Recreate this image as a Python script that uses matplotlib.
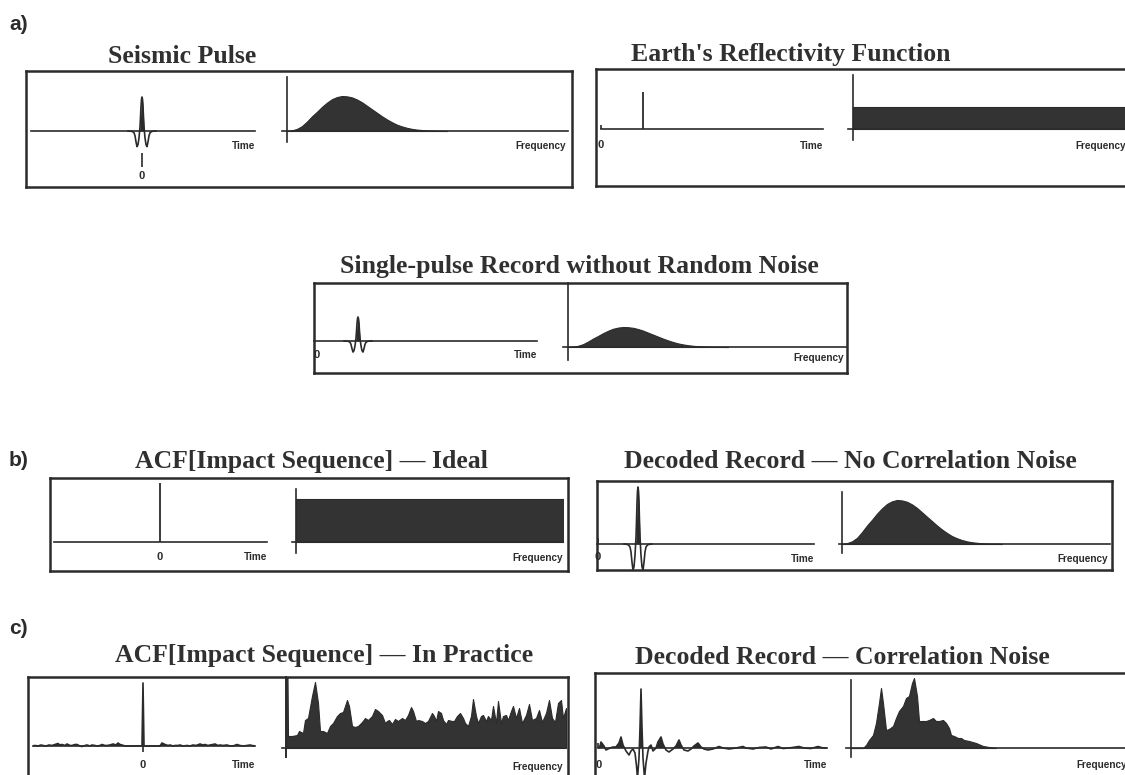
import matplotlib
matplotlib.use('Agg')
import matplotlib.pyplot as plt
from matplotlib import transforms
import numpy as np

# zero-phase seismic pulse (time in ms, amplitude normalised to the peak)
pulse_time = [-14, -10, -8, -7, -6, -5, -4, -3, -2, -1.5, -1, -0.5, 0,
              0.5, 1, 1.5, 2, 3, 4, 5, 6, 7, 8, 10, 14]
pulse_amp = [0, -0.01, -0.05, -0.14, -0.32, -0.46, -0.4, -0.2, 0.12, 0.4, 0.72, 0.93, 1.0,
             0.93, 0.72, 0.4, 0.12, -0.2, -0.4, -0.46, -0.32, -0.14, -0.05, -0.01, 0]

# amplitude spectrum of the pulse (Hz, normalised)
pulse_freq = [0, 5, 10, 15, 20, 25, 30, 35, 40, 45, 50, 55, 60, 65, 70,
              75, 80, 85, 90, 95, 100, 105, 110, 115, 120, 125, 130, 140, 150, 160]
pulse_spec = [0, 0.02, 0.06, 0.14, 0.27, 0.42, 0.55, 0.69, 0.81, 0.91, 0.97, 1.0, 0.99, 0.96, 0.9,
              0.82, 0.72, 0.62, 0.52, 0.42, 0.33, 0.25, 0.18, 0.13, 0.09, 0.06, 0.04, 0.015, 0.005, 0]

# single reflector
refl_time = [42]
refl_amp = [1.0]

# white spectrum (reflector / ideal ACF)
white_freq = [0, 300]
white_spec = [1.0, 1.0]

# ideal autocorrelation of the impact sequence
acf_ideal_time = [0]
acf_ideal_amp = [1.0]

# autocorrelation of a real impact sequence (lag in ms, relative amplitude)
acf_real_time = [-111, -108, -105, -102, -100, -97, -94, -91, -88, -85,
                 -83, -81, -78, -76, -73, -71, -68, -66, -63, -61,
                 -58, -56, -53, -51, -48, -46, -43, -41, -38, -36,
                 -33, -30, -27, -25, -23, -21, -18, -1, 0, 1,
                 17, 19, 22, 25, 27, 30, 32, 35, 37, 40,
                 44, 47, 50, 53, 57, 60, 62, 65, 67, 70,
                 72, 75, 77, 80, 84, 87, 90, 94, 97, 100,
                 104, 107, 109, 112]
acf_real_amp = [0, 0.5, 0, 1, 0.5, 0, 1, 0.5, 1.5, 2.5,
                1, 1.5, 0.5, 2, 0.5, 0.5, 1.5, 1.5, 0, -0.5,
                0.5, 1, 0, 1, 0.5, 0, 0.5, 1.5, 0.5, 0.5,
                1, 2, 1, 3, 1.5, 1, 0, 0, 63, 0,
                0, 3, 1.5, 0.5, 1, 0, 0.5, 0.5, 1, 0,
                0.5, 0, 1, 0.5, 2, 1, 1.5, 0.5, 1, 1.5,
                2, 0.5, 1, 0.5, 1, 0, 0, 1.5, 0.5, 0,
                0.5, 1, 0.5, 0]

acf_real_freq = [0, 1.5, 2, 6, 11, 13, 17, 19, 22, 26,
                 29, 32, 34, 37, 41, 44, 47, 51, 54, 57,
                 61, 63, 66, 69, 72, 76, 79, 82, 86, 89,
                 92, 96, 99, 101, 103, 106, 109, 112, 116, 119,
                 122, 125, 127, 130, 132, 136, 139, 142, 146, 148,
                 150, 152, 155, 157, 160, 162, 166, 168, 171, 174,
                 177, 179, 182, 185, 187, 190, 192, 195, 197, 200,
                 202, 205, 207, 210, 212, 215, 217, 220, 222, 225,
                 227, 230, 233, 236, 240, 243, 246, 250, 253, 256,
                 260, 263, 266, 269, 272, 275, 277, 280]
acf_real_spec = [70, 70, 12, 12, 13, 17, 15, 28, 30, 52,
                 66, 45, 17, 17, 15, 22, 25, 32, 35, 36,
                 48, 42, 22, 21, 22, 26, 30, 28, 32, 39,
                 37, 33, 25, 27, 28, 24, 29, 27, 30, 28,
                 33, 41, 37, 27, 28, 27, 25, 27, 35, 32,
                 27, 37, 35, 28, 24, 28, 27, 27, 32, 35,
                 30, 25, 22, 32, 49, 32, 25, 32, 33, 27,
                 32, 28, 42, 25, 47, 25, 32, 33, 28, 37,
                 42, 30, 40, 25, 33, 44, 28, 30, 38, 26,
                 35, 48, 30, 26, 45, 48, 30, 40]

# decoded record with correlation noise
dec_real_time = [0, 2, 3, 6, 8, 12, 15, 18, 21, 23,
                 25, 28, 31, 33, 35, 37, 38.5, 39.5, 41, 42,
                 43, 44, 45, 46.5, 48, 50, 51, 53, 55, 58,
                 60, 63, 65, 68, 71, 75, 78, 81, 83, 86,
                 90, 93, 96, 100, 103, 106, 110, 115, 121, 125,
                 131, 138, 145, 148, 155, 161, 168, 173, 180, 185,
                 191, 201, 206, 213, 220, 225, 229]
dec_real_amp = [0, 2, 6, 2, -2, 0, 1, 1, 5, 11,
                3, -3, -7, -3, -1, -5, -18, -30, -10, 20,
                59, 20, -10, -30, -15, -3, 1, 3, -3, 0,
                6, 11, 4, -2, -4, -1, 2, 8, 3, -2,
                -3, -1, 2, 5, 1, -1, -2, -1, 1.5, 0,
                -1, 0, 1.5, 0, -1, 0.5, 1, -1, 1.5, -0.5,
                0, 1.5, 0, -0.5, 1.5, 0, 0]

dec_real_freq = [0, 12, 15, 18, 22, 25, 28, 30, 32, 35,
                 38, 42, 45, 48, 52, 55, 58, 61, 63, 66,
                 68, 72, 75, 78, 82, 85, 88, 92, 95, 98,
                 100, 103, 107, 110, 113, 118, 125, 132, 138, 145]
dec_real_spec = [0, 0, 3, 8, 13, 25, 45, 60, 45, 18,
                 19, 22, 30, 37, 42, 50, 52, 65, 70, 52,
                 27, 27, 27, 28, 30, 27, 27, 28, 25, 20,
                 13, 12, 10, 10, 8, 7, 5, 2, 1, 0]

W, H = 1125, 775
INK = '#2b2b2b'
TITLE_FONT = dict(family='Liberation Serif', weight='bold', size=18.5, color='#303030')
AXIS_FONT = dict(family='Liberation Sans', weight='bold', size=7.2, color=INK)

fig = plt.figure(figsize=(W / 100, H / 100), dpi=100)
fig.patch.set_facecolor('white')


def box(x0, y0, x1, y1):
    ax = fig.add_axes([x0 / W, 1 - y1 / H, (x1 - x0) / W, (y1 - y0) / H])
    ax.set_xticks([])
    ax.set_yticks([])
    ax.patch.set_alpha(0)
    for s in ax.spines.values():
        s.set_linewidth(1.8)
        s.set_color(INK)
    return ax


def trace_axes(x0, x1, top, bottom, origin, base, ppu):
    # x in ms / Hz (one unit per pixel), y scaled so that ppu pixels = 1 unit
    ax = fig.add_axes([x0 / W, 1 - bottom / H, (x1 - x0) / W, (bottom - top) / H])
    ax.set_xlim(x0 - origin, x1 - origin)
    ax.set_ylim(-(bottom - base) / ppu, (base - top) / ppu)
    ax.set_xticks([])
    ax.set_yticks([])
    ax.patch.set_alpha(0)
    for side in ['top', 'right', 'left']:
        ax.spines[side].set_visible(False)
    ax.spines['bottom'].set_position(('data', 0))
    ax.spines['bottom'].set_linewidth(1.2)
    ax.spines['bottom'].set_color(INK)
    ax.ppu = ppu
    return ax


def freq_axes(x0, x1, top, bottom, origin, base, ppu, v_top, v_bot, lw=1.2):
    ax = trace_axes(x0, x1, top, bottom, origin, base, ppu)
    sp = ax.spines['left']
    sp.set_visible(True)
    sp.set_position(('data', 0))
    sp.set_bounds(-(v_bot - base) / ppu, (base - v_top) / ppu)
    sp.set_linewidth(lw)
    sp.set_color(INK)
    return ax


def under(ax, x, dy, s, ha='center', size=None):
    tr = transforms.offset_copy(ax.transData, fig=fig, x=0, y=-dy, units='dots')
    font = dict(AXIS_FONT)
    if size:
        font['size'] = size
    ax.text(x, 0, s, transform=tr, ha=ha, va='center', clip_on=False, **font)


def zero(ax, x, dy):
    under(ax, x, dy, '0', size=8)


def tick(ax, x, a_px, b_px):
    ax.vlines(x, a_px / ax.ppu, b_px / ax.ppu, color=INK, lw=1.2, clip_on=False)


def wiggle(ax, t, a, shift=0.0):
    t = np.asarray(t, float) + shift
    a = np.asarray(a, float)
    ax.plot(t, a, color=INK, lw=1.2, solid_joinstyle='round')
    ax.fill_between(t, a, 0, where=a > 0, interpolate=True, color=INK, lw=0)


def spectrum(ax, f, a):
    ax.fill_between(f, a, 0, facecolor='#333333', edgecolor=INK, lw=0.8)


def title(cx, y, s):
    fig.text(cx / W, 1 - y / H, s, ha='center', va='baseline', **TITLE_FONT)


def letter(x, y, s):
    fig.text(x / W, 1 - y / H, s, ha='left', va='center',
             family='Liberation Sans', weight='bold', size=15, color=INK)


# ---- a) seismic pulse ----
letter(9, 25, 'a)')
title(182, 63, 'Seismic Pulse')
box(26, 71, 572, 187)
ax = trace_axes(31, 255, 71, 187, 142, 131, 34)
wiggle(ax, pulse_time, pulse_amp)
tick(ax, 0, -22, -36)
zero(ax, 0, 45)
under(ax, ax.get_xlim()[1], 15, 'Time', ha='right')
ax = freq_axes(282, 568, 71, 187, 287, 131, 35, 77, 142)
spectrum(ax, pulse_freq, pulse_spec)
under(ax, ax.get_xlim()[1] - 2, 15, 'Frequency', ha='right')

# ---- a) earth reflectivity ----
title(791, 61, "Earth's Reflectivity Function")
box(596, 69, 1135, 186)
ax = trace_axes(601, 823, 69, 186, 601, 129, 37)
ax.vlines(refl_time, 0, refl_amp, color=INK, lw=1.3)
tick(ax, 0, 0, 4)
zero(ax, 0, 16)
under(ax, ax.get_xlim()[1], 17, 'Time', ha='right')
ax = freq_axes(848, 1130, 69, 186, 853, 129, 22, 75, 140)
spectrum(ax, white_freq, white_spec)
under(ax, ax.get_xlim()[1] - 4, 17, 'Frequency', ha='right')

# ---- a) single-pulse record ----
title(579, 273, 'Single-pulse Record without Random Noise')
box(314, 283, 847, 373)
ax = trace_axes(314, 537, 283, 373, 316, 341, 24)
wiggle(ax, pulse_time, pulse_amp, shift=refl_time[0])
zero(ax, 1, 14)
under(ax, ax.get_xlim()[1], 14, 'Time', ha='right')
ax = freq_axes(563, 846, 283, 373, 568, 347, 20, 283, 360)
spectrum(ax, pulse_freq, pulse_spec)
under(ax, ax.get_xlim()[1] - 2, 11, 'Frequency', ha='right')

# ---- b) ideal ACF ----
letter(9, 461, 'b)')
title(311, 468, 'ACF[Impact Sequence] \u2014 Ideal')
box(50, 478, 568, 571)
ax = trace_axes(54, 267, 478, 571, 160, 542, 59)
ax.vlines(acf_ideal_time, 0, acf_ideal_amp, color=INK, lw=1.3)
zero(ax, 0, 15)
under(ax, ax.get_xlim()[1], 15, 'Time', ha='right')
ax = freq_axes(292, 563, 478, 571, 296, 542, 43, 489, 553)
spectrum(ax, white_freq, white_spec)
under(ax, ax.get_xlim()[1], 16, 'Frequency', ha='right')

# ---- b) decoded record, no correlation noise ----
title(850, 468, 'Decoded Record \u2014 No Correlation Noise')
box(597, 481, 1112, 570)
ax = trace_axes(597, 814, 481, 570, 596, 544, 57)
wiggle(ax, pulse_time, pulse_amp, shift=refl_time[0])
tick(ax, 2, 0, 6)
zero(ax, 2, 13)
under(ax, ax.get_xlim()[1], 15, 'Time', ha='right')
ax = freq_axes(839, 1110, 481, 570, 842, 544, 44, 492, 553)
spectrum(ax, pulse_freq, pulse_spec)
under(ax, ax.get_xlim()[1] - 2, 15, 'Frequency', ha='right')

# ---- c) ACF in practice ----
letter(9, 629, 'c)')
title(324, 662, 'ACF[Impact Sequence] \u2014 In Practice')
box(28, 677, 568, 800)
ax = trace_axes(33, 255, 677, 800, 143, 746, 1)
wiggle(ax, acf_real_time, acf_real_amp)
tick(ax, 0, 0, -6)
zero(ax, 0, 19)
under(ax, ax.get_xlim()[1], 19, 'Time', ha='right')
ax = freq_axes(282, 566, 677, 800, 286, 748, 1, 677, 757, lw=1.4)
spectrum(ax, acf_real_freq, acf_real_spec)
under(ax, ax.get_xlim()[1] - 3, 19, 'Frequency', ha='right')

# ---- c) decoded record with correlation noise ----
title(842, 664, 'Decoded Record \u2014 Correlation Noise')
box(595, 673, 1140, 800)
ax = trace_axes(598, 827, 673, 800, 598, 748, 1)
wiggle(ax, dec_real_time, dec_real_amp)
tick(ax, 0, 0, 5)
zero(ax, 1, 17)
under(ax, ax.get_xlim()[1], 17, 'Time', ha='right')
ax = freq_axes(846, 1135, 673, 800, 851, 748, 1, 680, 757)
spectrum(ax, dec_real_freq, dec_real_spec)
under(ax, 276, 17, 'Frequency', ha='right')

fig.savefig('out.png', dpi=100)
